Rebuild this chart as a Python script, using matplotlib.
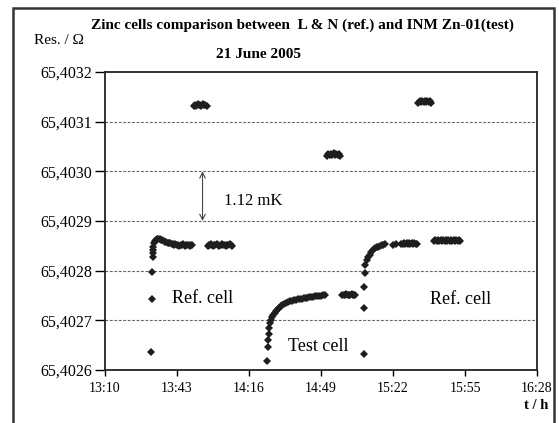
import matplotlib
matplotlib.use('Agg')
import matplotlib.pyplot as plt
from matplotlib.patches import Rectangle

plt.rcParams['font.family'] = ['Liberation Serif', 'DejaVu Serif']

# 时间: 13:10 之后的分钟数; 电阻值 / Ω
ref1_t = [21.1, 21.4, 21.7, 21.8, 21.9, 22.0, 22.1, 22.4, 22.8, 23.3, 23.9, 24.5, 25.1, 25.7,
          26.3, 26.9, 27.5, 28.1, 28.7, 29.3, 29.9, 30.5, 31.1, 31.7, 32.3, 32.9, 33.5, 34.1,
          34.7, 35.3, 35.9, 36.5, 37.1, 37.7, 38.3, 38.9, 39.5, 40.1]
ref1_v = [65.402637, 65.402742, 65.402798, 65.402827, 65.402836, 65.402842, 65.402848,
          65.402855, 65.402859, 65.402862, 65.402864, 65.402864, 65.402863, 65.402862,
          65.402861, 65.402860, 65.402858, 65.402857, 65.402856, 65.402856, 65.402855,
          65.402854, 65.402853, 65.402852, 65.402853, 65.402851, 65.402852, 65.402850,
          65.402852, 65.402851, 65.402853, 65.402850, 65.402852, 65.402851, 65.402852,
          65.402850, 65.402852, 65.402851]

high1_t = [40.6, 41.2, 41.8, 42.4, 43.0, 43.6, 44.2, 44.8, 45.4, 46.0, 46.6]
high1_v = [65.403131, 65.403134, 65.403132, 65.403135, 65.403133, 65.403134, 65.403132,
           65.403135, 65.403133, 65.403134, 65.403131]

ref2_t = [47.0, 47.6, 48.2, 48.8, 49.4, 50.0, 50.6, 51.2, 51.8, 52.4, 53.0, 53.6, 54.2,
          54.8, 55.4, 56.0, 56.6, 57.2, 57.8, 58.4]
ref2_v = [65.402850, 65.402852, 65.402851, 65.402853, 65.402850, 65.402852, 65.402851,
          65.402853, 65.402852, 65.402850, 65.402852, 65.402853, 65.402851, 65.402852,
          65.402850, 65.402852, 65.402851, 65.402853, 65.402851, 65.402850]

test_t = [74.2, 74.5, 74.8, 75.0, 75.3, 75.6, 76.0, 76.5, 77.1, 77.7, 78.4, 79.1, 79.8,
          80.5, 81.3, 82.1, 82.9, 83.8, 84.7, 85.6, 86.5, 87.4, 88.3, 89.2, 90.1, 91.0,
          91.9, 92.8, 93.7, 94.6, 95.5, 96.4, 97.3, 98.2, 99.1, 100.0, 100.8]
test_v = [65.402619, 65.402647, 65.402660, 65.402672, 65.402684, 65.402694, 65.402700,
          65.402706, 65.402711, 65.402715, 65.402719, 65.402722, 65.402725, 65.402728,
          65.402730, 65.402733, 65.402735, 65.402737, 65.402738, 65.402739, 65.402740,
          65.402741, 65.402742, 65.402742, 65.402743, 65.402744, 65.402744, 65.402745,
          65.402746, 65.402746, 65.402747, 65.402748, 65.402748, 65.402748, 65.402749,
          65.402750, 65.402750]

high2_t = [101.8, 102.4, 103.0, 103.6, 104.2, 104.8, 105.4, 106.0, 106.6, 107.2, 107.8]
high2_v = [65.403031, 65.403034, 65.403032, 65.403035, 65.403033, 65.403036, 65.403032,
           65.403034, 65.403033, 65.403035, 65.403031]

test2_t = [108.8, 109.4, 110.0, 110.6, 111.2, 111.8, 112.4, 113.0, 113.6, 114.2, 114.8]
test2_v = [65.402750, 65.402752, 65.402751, 65.402753, 65.402750, 65.402752, 65.402751,
           65.402753, 65.402751, 65.402752, 65.402750]

ref3_t = [118.6, 118.8, 118.9, 119.0, 119.1, 119.9, 120.6, 121.4, 122.1, 122.9, 123.7,
          124.5, 125.2, 126.0, 126.8, 127.6, 128.3, 131.8, 133.2, 135.8, 136.4, 137.0,
          137.6, 138.2, 138.8, 139.4, 140.0, 140.6, 141.2, 141.8, 142.4, 143.0]
ref3_v = [65.402632, 65.402724, 65.402768, 65.402795, 65.402811, 65.402821, 65.402827,
          65.402832, 65.402837, 65.402842, 65.402845, 65.402847, 65.402848, 65.402850,
          65.402851, 65.402852, 65.402853, 65.402851, 65.402853, 65.402854, 65.402853,
          65.402855, 65.402854, 65.402856, 65.402853, 65.402855, 65.402854, 65.402856,
          65.402853, 65.402855, 65.402854, 65.402853]

high3_t = [143.6, 144.2, 144.8, 145.4, 146.0, 146.6, 147.2, 147.8, 148.4, 149.0, 149.6]
high3_v = [65.403138, 65.403141, 65.403139, 65.403142, 65.403140, 65.403141, 65.403139,
           65.403142, 65.403140, 65.403141, 65.403138]

ref4_t = [150.8, 151.4, 152.0, 152.6, 153.2, 153.8, 154.4, 155.0, 155.6, 156.2, 156.8,
          157.4, 158.0, 158.6, 159.2, 159.8, 160.4, 161.0, 161.6, 162.2, 162.8]
ref4_v = [65.402859, 65.402861, 65.402860, 65.402862, 65.402859, 65.402861, 65.402860,
          65.402862, 65.402860, 65.402861, 65.402859, 65.402861, 65.402860, 65.402862,
          65.402860, 65.402861, 65.402859, 65.402862, 65.402860, 65.402861, 65.402859]

x_ticks = [0, 33, 66, 99, 132, 165, 198]
x_labels = ['13:10', '13:43', '14:16', '14:49', '15:22', '15:55', '16:28']
y_ticks = [65.4026, 65.4027, 65.4028, 65.4029, 65.4030, 65.4031, 65.4032]
y_labels = ['65,4026', '65,4027', '65,4028', '65,4029', '65,4030', '65,4031', '65,4032']

fig = plt.figure(figsize=(5.59, 4.23), dpi=100)
ax = fig.add_axes([0.1878, 0.1253, 0.7729, 0.7045])

series = [(ref1_t, ref1_v), (high1_t, high1_v), (ref2_t, ref2_v), (test_t, test_v),
          (high2_t, high2_v), (test2_t, test2_v), (ref3_t, ref3_v), (high3_t, high3_v),
          (ref4_t, ref4_v)]
for t, v in series:
    ax.plot(t, v, linestyle='none', marker='D', markersize=4.5, color='#1e1e1e',
            markeredgewidth=0)

ax.set_xlim(0, 198)
ax.set_ylim(65.4026, 65.4032)
ax.set_xticks(x_ticks)
ax.set_xticklabels(x_labels, fontsize=10)
ax.set_yticks(y_ticks)
ax.set_yticklabels(y_labels, fontsize=11.5)
ax.tick_params(axis='y', direction='out', length=7, width=1, pad=2)
ax.tick_params(axis='x', direction='out', length=4, width=1, pad=5)
for s in ax.spines.values():
    s.set_linewidth(1.3)
    s.set_color('#222222')

# 虚线网格
for yv in y_ticks[1:-1]:
    ax.axhline(yv, color='#666666', linestyle=(0, (2.5, 1.5)), linewidth=0.8, zorder=0)

# 1.12 mK 双箭头
ax.annotate('', xy=(44.7, 65.4030), xytext=(44.7, 65.4029),
            arrowprops=dict(arrowstyle='<->', color='#444444', lw=0.8,
                            shrinkA=0, shrinkB=0))
ax.text(54.5, 65.40294, '1.12 mK', fontsize=12, va='center', ha='left')
ax.text(30.5, 65.402744, 'Ref. cell', fontsize=13, va='center', ha='left')
ax.text(83.8, 65.402647, 'Test cell', fontsize=13, va='center', ha='left')
ax.text(148.9, 65.402742, 'Ref. cell', fontsize=13, va='center', ha='left')

fig.text(302 / 559, 1 - 25 / 423, 'Zinc cells comparison between  L & N (ref.) and INM Zn-01(test)',
         fontsize=11, fontweight='bold', ha='center', va='center')
fig.text(259 / 559, 1 - 54 / 423, '21 June 2005', fontsize=11, fontweight='bold',
         ha='center', va='center')
fig.text(59 / 559, 1 - 41 / 423, 'Res. / Ω', fontsize=11, ha='center', va='center')
fig.text(548 / 559, 1 - 405 / 423, 't / h', fontsize=10.5, fontweight='bold',
         ha='right', va='center')

# 外框
fig.patches.append(Rectangle((13 / 559, -0.01), 541 / 559, 1 - 8 / 423 + 0.01,
                             transform=fig.transFigure, fill=False,
                             edgecolor='#333333', linewidth=1.8))

fig.savefig('out.png', dpi=100)
